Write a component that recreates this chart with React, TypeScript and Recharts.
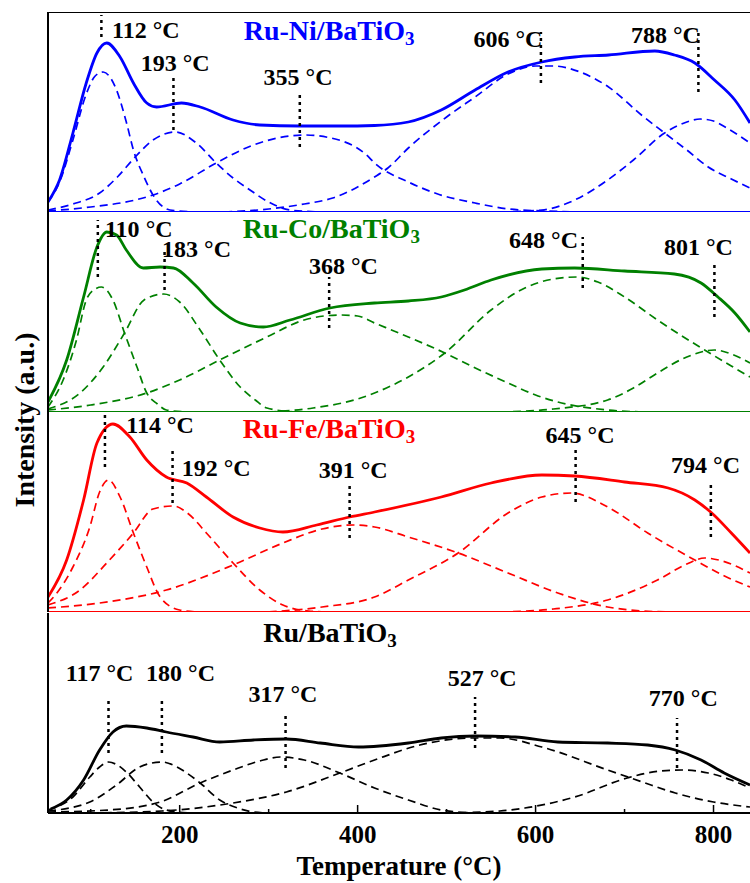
import React from "react";
import { LineChart, Line, XAxis, YAxis, ReferenceLine, ReferenceDot } from "recharts";

type Pt = [number, number];

const FONT = '"Liberation Serif", "DejaVu Serif Condensed", "DejaVu Serif", serif';
const STRETCH = { fontStretch: "condensed" } as React.CSSProperties;

// x axis
const X_DOMAIN: [number, number] = [52, 841];
const MAJOR_TICKS = [200, 400, 600, 800];
const MINOR_TICKS = [100, 300, 500, 700];

const CATALYSTS = ["Ru-Ni/BaTiO3", "Ru-Co/BaTiO3", "Ru-Fe/BaTiO3", "Ru/BaTiO3"];

// Ru-Ni/BaTiO3
const niSum: Pt[] = [
  [52, 10], [65, 32], [80, 79], [95, 129], [107, 159], [118, 169], [133, 155], [148, 129],
  [163, 109], [174, 105], [202, 109], [223, 105], [260, 92], [290, 87], [335, 86], [380, 86],
  [419, 86.5], [457, 90], [494, 102], [532, 122], [569, 140], [607, 150], [644, 155], [682, 157],
  [734, 161], [756, 157], [779, 149], [801, 132], [824, 112], [841, 89],
];
const niPeaks: Pt[][] = [
  [[52, 10], [65, 30], [80, 72], [95, 118], [105, 136], [114, 140], [129, 122], [140, 90], [148, 62], [160, 35], [170, 17], [189, 2], [220, 0]],
  [[52, 2], [80, 8], [110, 19], [130, 35], [150, 55], [170, 72], [195, 80], [220, 68], [241, 49], [260, 34], [279, 22], [300, 10], [324, 2], [360, 0]],
  [[52, 1], [100, 5], [150, 12], [170, 17], [200, 28], [241, 49], [280, 66], [310, 74], [340, 77], [370, 74], [410, 57], [419, 49], [457, 30], [490, 18], [532, 9], [570, 3], [610, 1], [650, 0]],
  [[250, 0], [300, 3], [340, 8], [372, 14], [419, 35], [434, 44], [457, 64], [500, 95], [532, 115], [569, 138], [600, 146], [620, 146], [650, 140], [682, 125], [719, 97], [745, 79], [770, 62], [794, 45], [820, 33], [841, 24]],
  [[560, 0], [607, 2], [644, 12], [681, 32], [710, 52], [745, 79], [770, 90], [785, 93], [800, 91], [813, 85], [841, 69]],
];
const niLabels = [112, 193, 355, 606, 788];

// Ru-Co/BaTiO3
const coSum: Pt[] = [
  [52, 10], [73, 52], [92, 115], [107, 165], [118, 180], [129, 177], [140, 162], [159, 144],
  [178, 145], [193, 144], [215, 129], [241, 105], [268, 89], [294, 85], [324, 92], [369, 104],
  [419, 109], [457, 111], [494, 115], [520, 122], [550, 132], [607, 143], [644, 144], [700, 141],
  [756, 138], [786, 129], [805, 115], [824, 99], [841, 80],
];
const coPeaks: Pt[][] = [
  [[52, 5], [69, 32], [84, 72], [95, 112], [105, 123], [112, 125], [125, 112], [138, 79], [152, 45], [163, 19], [175, 8], [185, 2], [210, 0]],
  [[52, 3], [88, 19], [114, 45], [138, 79], [160, 112], [182, 118], [200, 110], [223, 82], [245, 52], [268, 25], [285, 12], [298, 4], [330, 0]],
  [[52, 2], [100, 7], [163, 19], [200, 32], [245, 52], [298, 75], [340, 92], [380, 97], [400, 96], [419, 89], [457, 75], [498, 59], [530, 45], [569, 29], [600, 17], [625, 10], [681, 2], [720, 0]],
  [[300, 0], [350, 4], [400, 13], [419, 19], [457, 35], [498, 59], [550, 102], [588, 124], [620, 133], [647, 135], [670, 130], [700, 115], [737, 92], [790, 62], [820, 46], [841, 35]],
  [[560, 0], [620, 3], [681, 12], [710, 24], [737, 39], [770, 55], [801, 62], [820, 58], [841, 49]],
];
const coLabels = [110, 183, 368, 648, 801];

// Ru-Fe/BaTiO3
const feSum: Pt[] = [
  [52, 15], [73, 52], [92, 112], [107, 169], [125, 188], [144, 175], [163, 152], [185, 135],
  [208, 129], [230, 115], [260, 95], [290, 84], [316, 80], [354, 87], [391, 95], [419, 100],
  [494, 115], [550, 129], [607, 137], [644, 136], [700, 130], [749, 124], [779, 112], [798, 99],
  [820, 79], [841, 59],
];
const fePeaks: Pt[][] = [
  [[52, 9], [62, 19], [80, 45], [99, 85], [110, 120], [120, 132], [133, 115], [148, 79], [163, 45], [178, 15], [200, 2], [220, 0]],
  [[52, 7], [88, 22], [118, 49], [148, 79], [170, 103], [193, 106], [210, 98], [230, 79], [260, 49], [290, 22], [316, 7], [345, 1], [370, 0]],
  [[52, 4], [110, 9], [185, 22], [260, 47], [316, 69], [360, 83], [395, 87], [419, 85], [457, 75], [513, 59], [569, 39], [625, 19], [681, 5], [720, 1], [750, 0]],
  [[300, 0], [360, 5], [419, 15], [457, 32], [513, 59], [569, 99], [607, 115], [640, 119], [681, 105], [726, 79], [779, 52], [810, 37], [841, 25]],
  [[560, 0], [620, 3], [681, 12], [737, 32], [770, 48], [790, 54], [810, 51], [841, 39]],
];
const feLabels = [114, 192, 391, 645, 794];

// Ru/BaTiO3
const ruSum: Pt[] = [
  [55, 4], [73, 13], [92, 33], [110, 63], [125, 81], [140, 87], [163, 85], [185, 81], [215, 76],
  [245, 71], [283, 73], [320, 74], [358, 70], [401, 66], [457, 70], [494, 75], [532, 77], [577, 76],
  [625, 71], [681, 70], [726, 68], [757, 63], [786, 53], [812, 40], [841, 28],
];
const ruPeaks: Pt[][] = [
  [[52, 3], [80, 16], [99, 36], [110, 46], [120, 51], [130, 48], [140, 41], [155, 26], [170, 11], [185, 3], [210, 0]],
  [[52, 2], [99, 11], [129, 28], [155, 46], [180, 51], [195, 47], [208, 40], [223, 30], [245, 13], [265, 5], [283, 1], [300, 0]],
  [[52, 1], [120, 3], [178, 11], [223, 30], [260, 43], [290, 52], [313, 56], [340, 53], [380, 40], [419, 25], [457, 13], [494, 3], [530, 0]],
  [[100, 0], [180, 2], [260, 10], [320, 21], [380, 40], [419, 53], [470, 68], [530, 75], [560, 75], [607, 66], [681, 43], [720, 31], [757, 20], [800, 11], [841, 6]],
  [[500, 0], [560, 2], [588, 5], [644, 16], [703, 35], [740, 42], [765, 43], [794, 40], [820, 33], [841, 25]],
];
const ruLabels = [117, 180, 317, 527, 770];

// annotation layout: marker shift (°C), dotted span and label centre in panel units
interface Mark { dx: number; y1: number; y2: number; lx: number; ly: number }
const niMarks: Mark[] = [
  { dx: 0, y1: 175, y2: 197, lx: 162, ly: 182 },
  { dx: 0, y1: 82, y2: 135, lx: 195, ly: 149 },
  { dx: -20, y1: 65, y2: 119, lx: 333, ly: 135 },
  { dx: 0, y1: 129, y2: 180, lx: 569, ly: 173 },
  { dx: -5, y1: 120, y2: 179, lx: 746, ly: 177 },
];
const coMarks: Mark[] = [
  { dx: -2, y1: 135, y2: 192, lx: 154, ly: 183 },
  { dx: 0, y1: 122, y2: 162, lx: 219, ly: 163 },
  { dx: 0, y1: 84, y2: 135, lx: 384, ly: 146 },
  { dx: 5, y1: 124, y2: 175, lx: 609, ly: 172 },
  { dx: 0, y1: 95, y2: 147, lx: 783, ly: 165 },
];
const feMarks: Mark[] = [
  { dx: 2, y1: 145, y2: 199, lx: 178, ly: 187 },
  { dx: 0, y1: 109, y2: 162, lx: 241, ly: 144 },
  { dx: 0, y1: 74, y2: 127, lx: 395, ly: 142 },
  { dx: 0, y1: 110, y2: 162, lx: 650, ly: 177 },
  { dx: 3, y1: 75, y2: 127, lx: 791, ly: 147 },
];
const ruMarks: Mark[] = [
  { dx: 3, y1: 60, y2: 113, lx: 110, ly: 140 },
  { dx: 0, y1: 60, y2: 113, lx: 201, ly: 140 },
  { dx: 2, y1: 45, y2: 98, lx: 316, ly: 119 },
  { dx: 5, y1: 65, y2: 116, lx: 540, ly: 135 },
  { dx: -11, y1: 45, y2: 95, lx: 766, ly: 115 },
];

const rows = (pts: Pt[]) => pts.map(([t, v]) => ({ t, v }));

function TempTick(props: any) {
  const { x, y, payload } = props;
  const major = MAJOR_TICKS.includes(payload.value);
  return (
    <g>
      <line x1={x} x2={x} y1={y} y2={y - (major ? 8 : 4)} stroke="#000" strokeWidth={1.5} />
      {major && (
        <text x={x} y={y + 30} textAnchor="middle" fontFamily={FONT} style={STRETCH} fontSize={25} fontWeight="bold" fill="#000">
          {payload.value}
        </text>
      )}
    </g>
  );
}

interface PanelProps {
  name: string;
  color: string;
  sum: Pt[];
  peaks: Pt[][];
  labels: number[];
  marks: Mark[];
  titleT: number;
  titleV: number;
  top: number;
  showAxis?: boolean;
  topBorder?: boolean;
}

function Panel({ name, color, sum, peaks, labels, marks, titleT, titleV, top, showAxis, topBorder }: PanelProps) {
  const base = name.slice(0, -1);
  const sub = name.slice(-1);
  return (
    <div style={{ position: "absolute", left: 0, top }}>
      <LineChart width={750} height={showAxis ? 270 : 200} margin={{ top: 0, right: 0, bottom: 0, left: 47 }}>
        <XAxis
          dataKey="t"
          type="number"
          domain={X_DOMAIN}
          allowDataOverflow
          hide={!showAxis}
          ticks={[...MINOR_TICKS, ...MAJOR_TICKS].sort((a, b) => a - b)}
          interval={0}
          height={70}
          tickSize={0}
          tickMargin={0}
          tickLine={false}
          axisLine={{ stroke: "#000", strokeWidth: 2 }}
          tick={(p: any) => <TempTick {...p} />}
          label={{
            value: "Temperature (°C)",
            position: "insideBottom",
            offset: 8,
            fontFamily: FONT,
            fontSize: 27,
            fontWeight: "bold",
            fill: "#000",
            style: STRETCH,
          }}
        />
        <YAxis
          type="number"
          domain={[0, 200]}
          allowDataOverflow
          width={1}
          tick={false}
          tickLine={false}
          axisLine={{ stroke: "#000", strokeWidth: 2 }}
        />
        {topBorder && <ReferenceLine y={200} stroke="#000" strokeWidth={2} />}
        {!showAxis && <ReferenceLine y={0} stroke={color} strokeWidth={2} />}

        {peaks.map((p, i) => (
          <Line
            key={i}
            data={rows(p)}
            dataKey="v"
            type="monotone"
            stroke={color}
            strokeWidth={1.7}
            strokeDasharray="8 5"
            dot={false}
            isAnimationActive={false}
          />
        ))}
        <Line
          data={rows(sum)}
          dataKey="v"
          type="monotone"
          stroke={color}
          strokeWidth={2.8}
          dot={false}
          isAnimationActive={false}
        />

        {labels.map((t, i) => (
          <ReferenceLine
            key={"m" + i}
            segment={[
              { x: t + marks[i].dx, y: marks[i].y1 },
              { x: t + marks[i].dx, y: marks[i].y2 },
            ]}
            stroke="#000"
            strokeWidth={2.5}
            strokeDasharray="3 4"
          />
        ))}
        {labels.map((t, i) => (
          <ReferenceDot
            key={"l" + i}
            x={marks[i].lx}
            y={marks[i].ly}
            r={0}
            shape={(p: any) => (
              <text
                x={p.cx}
                y={p.cy}
                textAnchor="middle"
                dominantBaseline="central"
                fontFamily={FONT}
                style={STRETCH}
                fontSize={24}
                fontWeight="bold"
                fill="#000"
              >
                {t} °C
              </text>
            )}
          />
        ))}
        <ReferenceDot
          x={titleT}
          y={titleV}
          r={0}
          shape={(p: any) => (
            <text
              x={p.cx}
              y={p.cy}
              dominantBaseline="central"
              fontFamily={FONT}
              style={STRETCH}
              fontSize={28}
              fontWeight="bold"
              fill={color}
            >
              {base}
              <tspan fontSize={19} dy={8}>
                {sub}
              </tspan>
            </text>
          )}
        />
      </LineChart>
    </div>
  );
}

export default function App() {
  return (
    <div style={{ position: "absolute", left: 0, top: 0, width: 750, height: 883, background: "#fff" }}>
      <Panel name={CATALYSTS[0]} color="#0000ff" sum={niSum} peaks={niPeaks} labels={niLabels} marks={niMarks} titleT={272} titleV={182} top={12} topBorder />
      <Panel name={CATALYSTS[1]} color="#008000" sum={coSum} peaks={coPeaks} labels={coLabels} marks={coMarks} titleT={271} titleV={184} top={212} />
      <Panel name={CATALYSTS[2]} color="#ff0000" sum={feSum} peaks={fePeaks} labels={feLabels} marks={feMarks} titleT={271} titleV={184} top={412} />
      <Panel name={CATALYSTS[3]} color="#000000" sum={ruSum} peaks={ruPeaks} labels={ruLabels} marks={ruMarks} titleT={294} titleV={181} top={613} showAxis />
      <div
        style={{
          position: "absolute",
          left: 25,
          top: 420,
          transform: "translate(-50%, -50%) rotate(-90deg)",
          whiteSpace: "nowrap",
          fontFamily: FONT,
          fontStretch: "condensed",
          fontSize: 28,
          fontWeight: "bold",
          color: "#000",
        }}
      >
        Intensity (a.u.)
      </div>
    </div>
  );
}
